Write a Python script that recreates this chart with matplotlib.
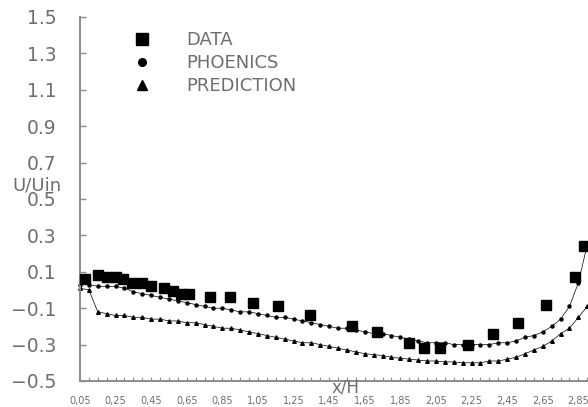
import numpy as np
import matplotlib.pyplot as plt
from matplotlib.lines import Line2D
from matplotlib.ticker import MultipleLocator, FixedLocator

# measured velocity profile
x_data = [0.08, 0.15, 0.20, 0.25, 0.29, 0.34, 0.40, 0.45, 0.52, 0.57, 0.62, 0.66,
          0.78, 0.89, 1.02, 1.16, 1.34, 1.58, 1.72, 1.90, 1.98, 2.07, 2.23, 2.37,
          2.51, 2.67, 2.83, 2.88]
u_data = [0.06, 0.08, 0.07, 0.07, 0.06, 0.04, 0.04, 0.02, 0.01, -0.005, -0.02, -0.02,
          -0.04, -0.04, -0.07, -0.09, -0.14, -0.20, -0.23, -0.29, -0.32, -0.32, -0.30, -0.24,
          -0.18, -0.08, 0.07, 0.24]

# computed profiles on the output grid
x_grid = [0.05, 0.10, 0.15, 0.20, 0.25, 0.30, 0.35, 0.40, 0.45, 0.50,
          0.55, 0.60, 0.65, 0.70, 0.75, 0.80, 0.85, 0.90, 0.95, 1.00,
          1.05, 1.10, 1.15, 1.20, 1.25, 1.30, 1.35, 1.40, 1.45, 1.50,
          1.55, 1.60, 1.65, 1.70, 1.75, 1.80, 1.85, 1.90, 1.95, 2.00,
          2.05, 2.10, 2.15, 2.20, 2.25, 2.30, 2.35, 2.40, 2.45, 2.50,
          2.55, 2.60, 2.65, 2.70, 2.75, 2.80, 2.85, 2.90]
u_phoenics = [0.03, 0.03, 0.02, 0.02, 0.02, 0.01, -0.01, -0.02, -0.03, -0.04,
              -0.05, -0.06, -0.07, -0.08, -0.09, -0.10, -0.10, -0.11, -0.12, -0.12,
              -0.13, -0.14, -0.15, -0.15, -0.16, -0.17, -0.18, -0.19, -0.20, -0.21,
              -0.21, -0.22, -0.23, -0.24, -0.24, -0.25, -0.26, -0.27, -0.28, -0.29,
              -0.29, -0.29, -0.30, -0.30, -0.30, -0.30, -0.30, -0.29, -0.29, -0.28,
              -0.26, -0.25, -0.23, -0.20, -0.16, -0.09, 0.04, 0.25]
u_predict = [0.01, 0.00, -0.12, -0.13, -0.14, -0.14, -0.15, -0.15, -0.16, -0.16,
             -0.17, -0.17, -0.18, -0.18, -0.19, -0.20, -0.21, -0.21, -0.22, -0.23,
             -0.24, -0.25, -0.26, -0.27, -0.28, -0.29, -0.29, -0.30, -0.31, -0.32,
             -0.33, -0.34, -0.35, -0.355, -0.36, -0.37, -0.375, -0.38, -0.385, -0.39,
             -0.39, -0.395, -0.395, -0.40, -0.40, -0.40, -0.39, -0.39, -0.38, -0.37,
             -0.35, -0.33, -0.31, -0.28, -0.24, -0.21, -0.15, -0.09]

xtick_vals = [0.05, 0.25, 0.45, 0.65, 0.85, 1.05, 1.25, 1.45, 1.65, 1.85, 2.05, 2.25, 2.45, 2.65, 2.85]
xtick_text = ['0,05', '0,25', '0,45', '0,65', '0,85', '1,05', '1,25', '1,45', '1,65', '1,85',
              '2,05', '2,25', '2,45', '2,65', '2,85']
ytick_vals = [-0.5, -0.3, -0.1, 0.1, 0.3, 0.5, 0.7, 0.9, 1.1, 1.3, 1.5]

W, H = 588, 407
fig = plt.figure(figsize=(W/100, H/100), dpi=100)
ax = fig.add_axes([80/W, 26/H, 508/W, 364/H])

grey = '#8c8c8c'
txt = '#6e6e6e'

ax.plot(x_grid, u_phoenics, color='black', lw=0.5, marker='o', ms=2.2, clip_on=False)
ax.plot(x_grid, u_predict, color='black', lw=0.5, marker='^', ms=2.6, clip_on=False)
ax.plot(x_data, u_data, ls='none', marker='s', ms=7.8, color='black', clip_on=False, zorder=5)

ax.set_xlim(0.05, 2.904)
ax.set_ylim(-0.5, 1.5)

for s in ['top', 'right']:
    ax.spines[s].set_visible(False)
for s in ['left', 'bottom']:
    ax.spines[s].set_color(grey)
    ax.spines[s].set_linewidth(1.4)

ax.xaxis.set_major_locator(FixedLocator(xtick_vals))
ax.set_xticklabels(xtick_text)
ax.xaxis.set_minor_locator(MultipleLocator(0.05))
ax.set_yticks(ytick_vals)
ax.set_yticklabels(['%.1f' % v if v >= 0 else '\u2212%.1f' % -v for v in ytick_vals])

ax.tick_params(axis='x', which='both', direction='in', length=3, width=0.8, color=grey,
               labelsize=7, labelcolor=txt, pad=11)
ax.tick_params(axis='y', direction='in', length=4, width=1, color=grey,
               labelsize=13.5, labelcolor=txt, pad=17)

fig.text(37/W, 1 - 186/H, 'U/Uin', fontsize=13, color=txt, ha='center', va='center')
fig.text(346/W, 1 - 388/H, 'x/H', fontsize=12, color=txt, ha='center', va='center')

handles = [Line2D([], [], ls='none', marker='s', ms=8, color='black'),
           Line2D([], [], ls='none', marker='o', ms=5.5, color='black'),
           Line2D([], [], ls='none', marker='^', ms=6.5, color='black')]
leg = ax.legend(handles, ['DATA', 'PHOENICS', 'PREDICTION'], loc='upper left',
                bbox_to_anchor=(133/W, 1 - 31/H), bbox_transform=fig.transFigure,
                frameon=False, fontsize=13, handlelength=1.0, handletextpad=1.95,
                labelspacing=0.28, borderpad=0, borderaxespad=0)
for t in leg.get_texts():
    t.set_color(txt)

fig.savefig('out.png', dpi=100)
